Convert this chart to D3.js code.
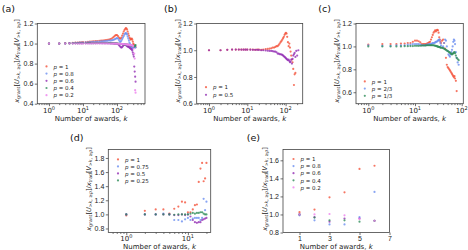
<!DOCTYPE html>
<html>
<head>
<meta charset="utf-8">
<script src="https://cdn.jsdelivr.net/npm/d3@7"></script>
<style>
body{margin:0;background:#fff;}
svg{font-family:"DejaVu Sans",sans-serif;}
.axis text{font-size:7px;fill:#222;}
.axis line{stroke:#333;stroke-width:0.7;}
</style>
</head>
<body>
<div id="vis-container"></div>
<script>
// ---- data ----
// panel (a)
let kA = [1,2,3,4,5,6,7,8,9,10, 12,14,16,18,20, 23,26,30,34,38, 42,47,52,58,64, 70,76,82,88,94,
  100,107,114,121,128, 135,142,150,158,166, 174,182,190,198,206, 215,224,233,242,252,
  262,272,282,292,302, 312,322,332,342,352];
let aR = [1.00,1.00,1.005,1.005,1.008,1.01,1.01,1.012,1.012,1.015, 1.015,1.018,1.02,1.02,1.022,
  1.025,1.025,1.028,1.03,1.03, 1.032,1.035,1.038,1.04,1.045, 1.05,1.06,1.07,1.08,1.085,
  1.085,1.075,1.06,1.05,1.05, 1.06,1.08,1.10,1.12,1.135, 1.145,1.155,1.15,1.14,1.12,
  1.10,1.08,1.06,1.05,1.04, 1.045,1.05,1.04,1.02,1.00, 0.99,0.98,0.975,0.97,0.965];
let aB = [1.00,1.00,1.003,1.005,1.005,1.007,1.008,1.01,1.01,1.01, 1.012,1.013,1.015,1.015,1.017,
  1.018,1.02,1.02,1.022,1.023, 1.025,1.025,1.027,1.03,1.03, 1.032,1.035,1.04,1.045,1.05,
  1.055,1.05,1.035,1.02,1.02, 1.03,1.045,1.06,1.075,1.09, 1.10,1.105,1.10,1.09,1.07,
  1.05,1.03,1.01,0.995,0.98, 0.97,0.96,0.95,0.955,0.96, 0.965,0.97,0.97,0.965,0.96];
let aP = [1.00,1.00,1.00,1.002,1.002,1.003,1.003,1.003,1.004,1.004, 1.004,1.005,1.005,1.005,1.005,
  1.005,1.005,1.005,1.005,1.005, 1.004,1.004,1.003,1.003,1.002, 1.002,1.001,1.0,1.0,1.0,
  0.998,0.995,0.985,0.975,0.965, 0.96,0.965,0.975,0.985,0.99, 0.99,0.985,0.98,0.975,0.97,
  0.97,0.965,0.96,0.955,0.95, 0.945,0.94,0.93,0.91,0.89, 0.87,0.77,0.72,0.67,0.62];
let aG = [1.00,1.00,1.00,1.00,1.002,1.002,1.002,1.003,1.003,1.003, 1.003,1.004,1.004,1.004,1.004,
  1.004,1.005,1.005,1.005,1.005, 1.005,1.005,1.005,1.004,1.004, 1.003,1.003,1.002,1.002,1.002,
  1.001,1.0,0.998,0.997,0.996, 0.995,0.995,0.994,0.993,0.992, 0.991,0.99,0.99,0.989,0.988,
  0.987,0.986,0.985,0.984,0.983, 0.982,0.98,0.978,0.976,0.975, 0.972,0.97,0.975,0.98,0.985];
let aV = [1.00,1.00,1.00,1.00,1.00,1.00,1.00,1.00,1.00,1.00, 1.00,1.00,1.00,1.001,1.001,
  1.001,1.001,1.001,1.001,1.001, 1.001,1.001,1.001,1.0,1.0, 1.0,1.0,1.0,1.0,1.0,
  0.999,0.998,0.998,0.997,0.996, 0.996,0.995,0.995,0.994,0.993, 0.993,0.992,0.991,0.99,0.99,
  0.989,0.988,0.987,0.986,0.985, 0.984,0.982,0.98,0.978,0.975, 0.95,0.90,0.85,0.535,0.51];

// panel (b)
let kB = [1,2,3,4,5,6,7,8,9,10, 12,14,16,18,20, 23,26,30,34,38, 42,46,50,54,58, 62,66,70,74,78,
  82,86,90,94,98, 102,106,110,115,120, 125,130,135,140,146, 152,158,165,172,180, 190,200,215];
let bR = [1.00,1.00,1.003,1.005,1.005,1.005,1.005,1.005,1.005,1.005, 1.005,1.005,1.003,1.005,1.005,
  1.003,1.005,1.008,1.01,1.012, 1.015,1.02,1.02,1.025,1.03, 1.03,1.04,1.05,1.06,1.07,
  1.08,1.09,1.10,1.115,1.125, 1.13,1.125,1.10,1.06,1.03, 1.05,1.02,0.99,0.96,0.93,
  0.91,0.86,0.74,0.82,0.83, null,null,null];
let bP = [1.00,1.00,1.003,1.005,1.005,1.005,1.004,1.004,1.004,1.004, 1.004,1.003,1.003,1.003,1.002,
  1.0,1.0,0.998,0.996,0.995, 0.995,0.993,0.99,0.99,0.985, 0.975,0.975,0.97,0.97,0.968,
  0.965,0.96,0.955,0.95,0.945, 0.94,0.935,0.93,0.925,0.93, 0.92,0.91,0.915,0.93,0.90,
  0.935,0.96,0.97,0.98,0.95, 0.995,0.96,1.0];

// panel (c)
let kC = [1,2,3,4,5,6,7,8,9,10, 11,12,13,14,15,16,17,18,19,20, 21,22,23,24,25,26,27,28,29,30,
  31,32,33,34,35,36, 38,40,42,44,46,48,50,52,54,56,58,60,62,64,66,68,70,72,75,78,82,86];
let cR = [1.015,1.02,1.02,1.02,1.025,1.025,1.03,1.03,1.04,1.05,
  1.05,1.045,1.035,1.02,1.02,1.02,1.02,1.025,1.03,1.035,
  1.04,1.06,1.08,1.10,1.12,1.13,1.14,1.13,1.14,1.145,
  1.14,1.12,1.08,1.06,1.04,1.03,
  1.05,1.06,1.03,0.98,0.90,0.84,0.82,0.81,0.80,0.79,0.78,0.77,0.76,0.75,0.74,0.73,0.74,0.72,0.70,0.61,null,null];
let cB = [1.01,1.005,1.005,1.01,1.01,1.01,1.015,1.015,1.02,1.02,
  1.02,1.02,1.015,1.01,1.01,1.01,1.01,1.015,1.015,1.02,
  1.02,1.02,1.025,1.03,1.03,1.03,1.035,1.04,1.04,1.045,
  1.05,1.055,1.06,1.05,1.03,1.01,
  0.99,1.0,1.03,1.06,1.05,1.0,0.96,0.93,0.92,0.91,0.93,0.95,0.97,1.0,1.04,1.06,1.05,1.02,0.95,0.90,0.86,0.84];
let cG = [1.0,1.0,1.0,1.0,1.0,1.002,1.002,1.003,1.003,1.005,
  1.005,1.005,1.006,1.007,1.008,1.008,1.009,1.01,1.01,1.01,
  1.01,1.01,1.01,1.01,1.01,1.008,1.006,1.005,1.003,1.0,
  0.998,0.996,0.995,0.993,0.99,0.99,
  0.988,0.985,0.98,0.975,0.97,0.965,0.96,0.955,0.95,0.945,0.94,0.935,0.93,0.935,0.94,0.945,0.95,0.94,0.92,0.90,0.89,0.88];

// panel (d)
let kD = [1,2,3,4,5,6,7,8,9,10,11,12,13,14,15,16,17,18,19,20];
let dR = [0.985,1.05,1.07,1.07,1.01,1.08,1.11,1.18,1.17,1.03,1.03,1.07,1.13,1.14,1.46,1.65,1.73,1.47,1.51,1.73];
let dB = [1.0,1.0,1.0,1.01,1.0,0.92,0.92,0.90,0.93,0.95,0.92,0.94,0.95,0.95,0.95,0.92,0.95,1.22,1.06,1.18];
let dP = [1.0,1.0,1.0,1.0,1.0,0.99,0.99,1.0,0.99,1.0,0.97,0.92,0.89,0.88,0.89,0.89,0.92,0.93,0.94,0.95];
let dG = [1.0,1.0,1.0,1.0,1.0,0.995,1.0,1.0,1.0,1.0,1.01,1.02,1.01,1.02,1.02,1.03,1.03,1.01,1.0,1.0];

// panel (e)
let kE = [1,2,3,4,5,6];
let eR = [1.025,1.054,1.19,1.245,1.505,1.54];
let eB = [0.99,0.935,0.89,0.89,0.97,1.25];
let eP = [1.0,0.97,0.92,0.955,0.955,0.93];
let eG = [1.0,0.965,0.935,0.935,0.92,0.93];
let eV = [1.0,1.0,1.005,0.99,0.95,0.93];

// tick labels
let yTicksA = [0.4,0.6,0.8,1.0,1.2];
let yTicksB = [0.6,0.8,1.0,1.2];
let yTicksC = [0.6,0.8,1.0,1.2];
let yTicksD = [0.8,1.0,1.2,1.4,1.6,1.8];
let yTicksE = [0.8,1.0,1.2,1.4,1.6];
let xMajorA = [1,10,100];
let xMajorD = [1,10];
let xTicksE = [1,3,5,7];

// ---- drawing ----
let W = 468, H = 250;
let svg = d3.select("#vis-container")
  .append("svg")
  .attr("width", W)
  .attr("height", H);

let red = "#f4533b", blue = "#6b8ef0", purple = "#9430b4", green = "#2f8d5a", violet = "#ee80ee";

let panels = [
  {name:"(a)", nx:1.7, ny:11.8, left:37.3, right:145, top:23.5, bottom:103.7, log:true,
   xDom:[Math.pow(10,-0.344), Math.pow(10,2.824)], xMajor:xMajorA, yDom:[0.4,1.2], yTicks:yTicksA,
   ylx:18.5, yly:61,
   series:[{k:kA,v:aR,c:red,l:"1"},{k:kA,v:aB,c:blue,l:"0.8"},{k:kA,v:aP,c:purple,l:"0.6"},
           {k:kA,v:aG,c:green,l:"0.4"},{k:kA,v:aV,c:violet,l:"0.2"}],
   lx:46.5, ly:66.7, ldy:7.2},
  {name:"(b)", nx:164, ny:11.8, left:196.7, right:302.7, top:23.5, bottom:103.7, log:true,
   xDom:[Math.pow(10,-0.321), Math.pow(10,2.446)], xMajor:xMajorA, yDom:[0.6,1.2], yTicks:yTicksB,
   ylx:179.5, yly:61,
   series:[{k:kB,v:bR,c:red,l:"1"},{k:kB,v:bP,c:purple,l:"0.5"}],
   lx:206, ly:87.5, ldy:7.6},
  {name:"(c)", nx:318.3, ny:11.8, left:356, right:463.3, top:23.5, bottom:103.7, log:true,
   xDom:[Math.pow(10,-0.263), Math.pow(10,2.034)], xMajor:xMajorA, yDom:[0.5,1.2], yTicks:yTicksC,
   ylx:338.5, yly:61,
   series:[{k:kC,v:cR,c:red,l:"1"},{k:kC,v:cB,c:blue,l:"2/3"},{k:kC,v:cG,c:green,l:"1/3"}],
   lx:364.8, ly:81.7, ldy:7.2},
  {name:"(d)", nx:70, ny:140.7, left:108.3, right:210.7, top:149.5, bottom:232.5, log:true,
   xDom:[Math.pow(10,-0.292), Math.pow(10,1.37)], xMajor:xMajorD, yDom:[0.743,1.92], yTicks:yTicksD,
   ylx:90.5, yly:189,
   series:[{k:kD,v:dR,c:red,l:"1"},{k:kD,v:dB,c:blue,l:"0.75"},{k:kD,v:dP,c:purple,l:"0.5"},
           {k:kD,v:dG,c:green,l:"0.25"}],
   lx:118, ly:159.7, ldy:7},
  {name:"(e)", nx:246.7, ny:140.7, left:283, right:389.5, top:149.5, bottom:232.5, log:false,
   xDom:[-0.1,7], xTicks:xTicksE, yDom:[0.8,1.72], yTicks:yTicksE,
   ylx:266.5, yly:189,
   series:[{k:kE,v:eR,c:red,l:"1"},{k:kE,v:eB,c:blue,l:"0.8"},{k:kE,v:eP,c:purple,l:"0.6"},
           {k:kE,v:eG,c:green,l:"0.4"},{k:kE,v:eV,c:violet,l:"0.2"}],
   lx:293.5, ly:159.3, ldy:7.1}
];

// ylabel pieces: text, italic, subscript
let ylabParts = [
  ["x",1,0],["grant",0,1],["[",0,0],["U",1,0],[">",0,1],["k",1,1],[", \u2265",0,1],["p",1,1],
  ["]/",0,0],["x",1,0],["trad",0,1],["[",0,0],["V",1,0],[">",0,1],["k",1,1],[", \u2265",0,1],["p",1,1],
  ["]",0,0]
];

function drawPanel(p){
  let x = p.log
    ? d3.scaleLog().domain(p.xDom).range([p.left, p.right])
    : d3.scaleLinear().domain(p.xDom).range([p.left, p.right]);
  let y = d3.scaleLinear().domain(p.yDom).range([p.bottom, p.top]);
  let g = svg.append("g");

  //left axis
  g.append("g")
    .attr("class", "axis")
    .attr("transform", `translate(${p.left},0)`)
    .call(d3.axisLeft(y).tickValues(p.yTicks).tickSize(2.5).tickPadding(1.5).tickFormat(d3.format(".1f")))
    .call(a=>{a.select(".domain").remove();});

  //bottom axis
  if (p.log){
    let minor = x.ticks().filter(d=>{return p.xMajor.indexOf(d) < 0;});
    g.append("g")
      .attr("class", "axis")
      .attr("transform", `translate(0,${p.bottom})`)
      .call(d3.axisBottom(x).tickValues(minor).tickSize(1.4).tickFormat(""))
      .call(a=>{a.select(".domain").remove();});
    g.append("g")
      .attr("class", "axis")
      .attr("transform", `translate(0,${p.bottom})`)
      .call(d3.axisBottom(x).tickValues(p.xMajor).tickSize(2.5).tickFormat(""))
      .call(a=>{a.select(".domain").remove();});
    let labs = g.selectAll(".xlab")
      .data(p.xMajor)
      .enter()
      .append("text")
      .attr("class", "xlab")
      .attr("x", d=>{return x(d);})
      .attr("y", p.bottom + 8.8)
      .attr("text-anchor", "middle")
      .attr("font-size", "7px")
      .attr("fill", "#222");
    labs.append("tspan").text("10");
    labs.append("tspan")
      .attr("dy", -3)
      .attr("font-size", "5px")
      .text(d=>{return Math.round(Math.log10(d));});
  } else {
    g.append("g")
      .attr("class", "axis")
      .attr("transform", `translate(0,${p.bottom})`)
      .call(d3.axisBottom(x).tickValues(p.xTicks).tickSize(2.5).tickPadding(1.5).tickFormat(d3.format("d")))
      .call(a=>{a.select(".domain").remove();});
  }

  //frame
  g.append("rect")
    .attr("x", p.left)
    .attr("y", p.top)
    .attr("width", p.right - p.left)
    .attr("height", p.bottom - p.top)
    .attr("fill", "none")
    .attr("stroke", "#444")
    .attr("stroke-width", 0.8);

  //points
  for (let s of p.series){
    let pts = s.k.map((k,i)=>{return {k:k, v:s.v[i]};}).filter(d=>{return d.v != null;});
    g.append("g").selectAll("circle")
      .data(pts)
      .enter()
      .append("circle")
      .attr("cx", d=>{return x(d.k);})
      .attr("cy", d=>{return y(d.v);})
      .attr("r", 1.1)
      .attr("fill", s.c)
      .attr("fill-opacity", 0.8);
  }

  //legend
  p.series.forEach((s,i)=>{
    let ly = p.ly + i*p.ldy;
    g.append("circle")
      .attr("cx", p.lx)
      .attr("cy", ly - 0.3)
      .attr("r", 1.1)
      .attr("fill", s.c)
      .attr("fill-opacity", 0.8);
    let t = g.append("text")
      .attr("x", p.lx + 7)
      .attr("y", ly + 1.9)
      .attr("font-size", "5.5px")
      .attr("fill", "#222");
    t.append("tspan").attr("font-style", "italic").text("p");
    t.append("tspan").text(" = " + s.l);
  });

  //x label
  let xl = g.append("text")
    .attr("x", (p.left + p.right)/2)
    .attr("y", p.bottom + 16.8)
    .attr("text-anchor", "middle")
    .attr("font-size", "7px")
    .attr("fill", "#222");
  xl.append("tspan").text("Number of awards, ");
  xl.append("tspan").attr("font-style", "italic").text("k");

  //y label
  let yl = g.append("text")
    .attr("text-anchor", "middle")
    .attr("font-size", "6.5px")
    .attr("fill", "#222")
    .attr("transform", `translate(${p.ylx},${p.yly}) rotate(-90)`);
  let shift = 0;
  for (let part of ylabParts){
    let want = part[2] ? 1.6 : 0;
    let ts = yl.append("tspan").text(part[0]);
    if (part[1]) ts.attr("font-style", "italic");
    if (part[2]) ts.attr("font-size", "4.6px");
    if (want != shift) ts.attr("dy", want - shift);
    shift = want;
  }

  //panel label
  g.append("text")
    .attr("x", p.nx)
    .attr("y", p.ny)
    .attr("font-size", "9.5px")
    .attr("fill", "#111")
    .text(p.name);
}

for (let p of panels){
  drawPanel(p);
}
</script>
</body>
</html>
